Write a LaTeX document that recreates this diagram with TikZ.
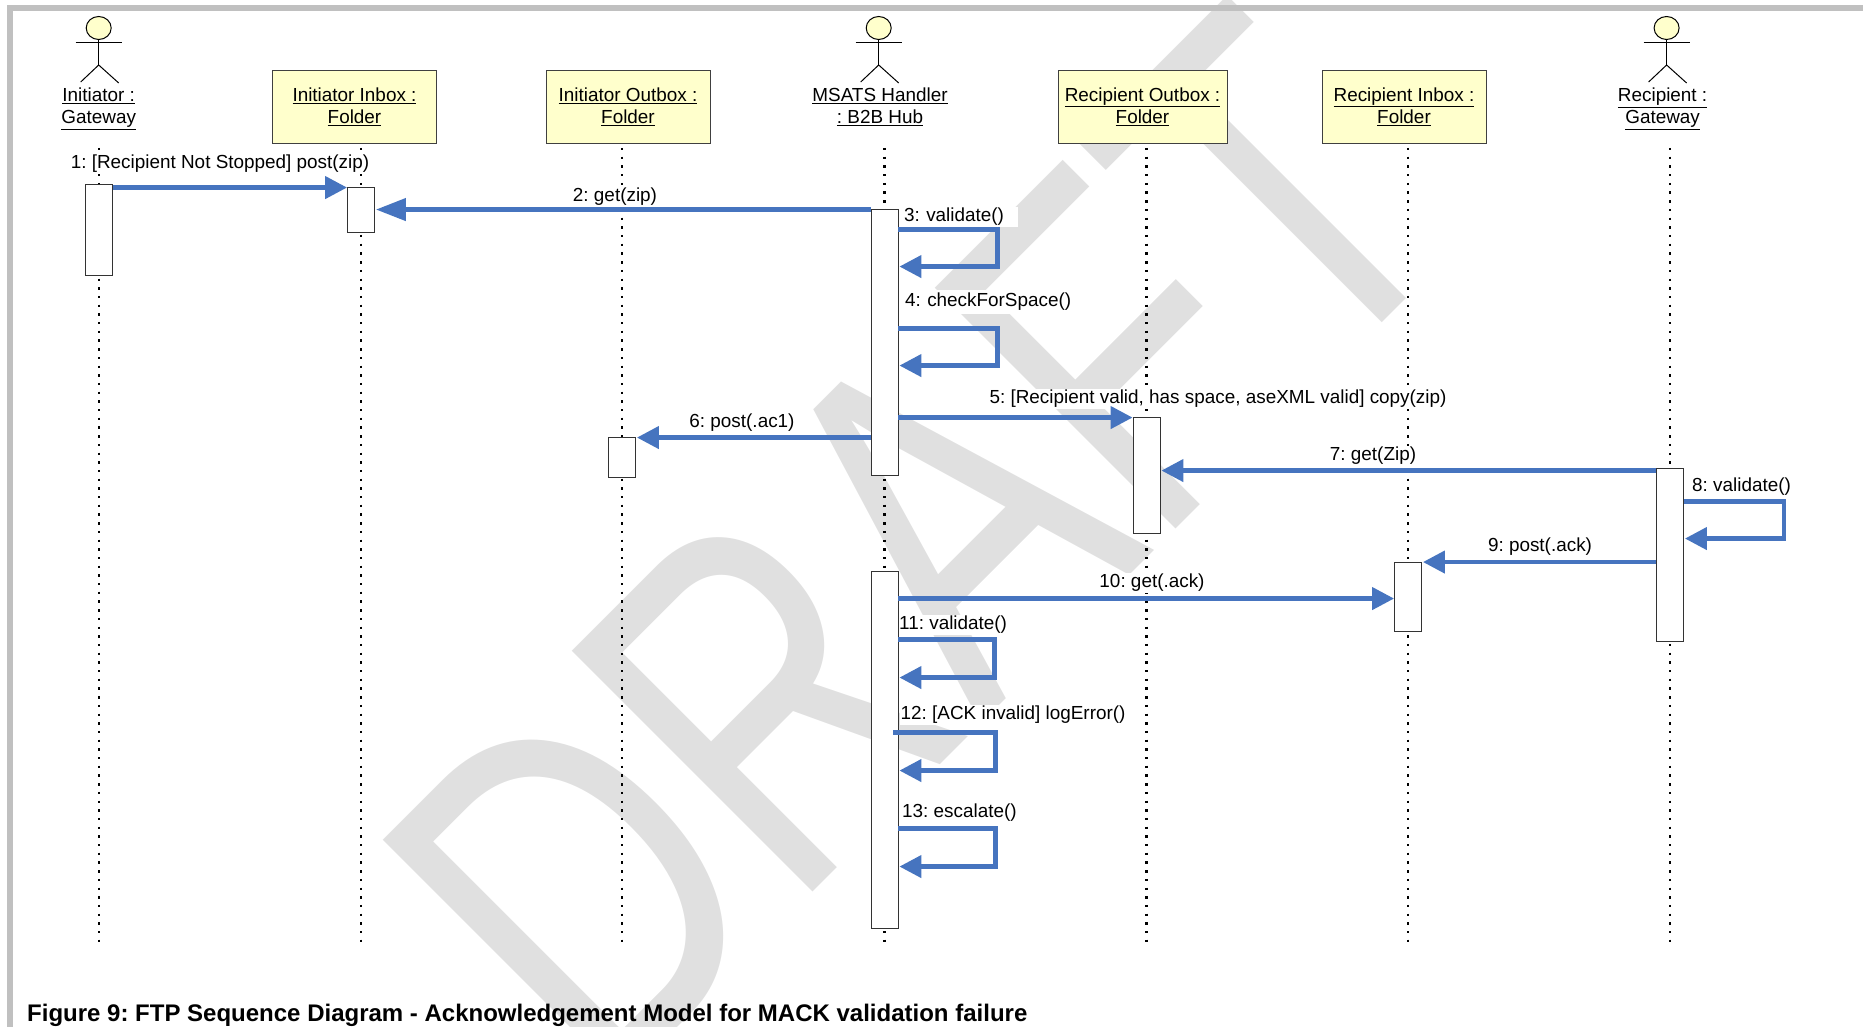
\documentclass[tikz,border=0pt]{standalone}
\usepackage{fontspec}
\setmainfont{Liberation Sans}
\usetikzlibrary{arrows.meta}
\usetikzlibrary{shapes.geometric}
\definecolor{msgblue}{HTML}{4674BF}
\definecolor{noteyellow}{HTML}{FFFFCC}
\definecolor{framegray}{HTML}{C0C0C0}
\definecolor{draftgray}{HTML}{E0E0E0}
\frenchspacing
\tikzset{
	every node/.style={font=\fontsize{18.9}{22}\selectfont, text=black},
	folder/.style={draw=black!75, fill=noteyellow, line width=0.9pt, shape=rectangle, minimum height=73pt, align=center, inner sep=0pt},
	actor_text/.style={align=center, inner sep=0pt},
	head/.style={draw=black, fill=noteyellow, shape=ellipse, line width=1pt, minimum width=25pt, minimum height=23pt, inner sep=0pt},
	lifeline/.style={draw=black, line width=2.4pt, dash pattern=on 2.4pt off 6.3pt},
	activation/.style={draw=black!80, fill=white, line width=0.9pt, shape=rectangle, minimum width=27pt, inner sep=0pt},
	msg/.style={draw=msgblue, line width=4.4pt, -{Triangle[length=22pt,width=22pt]}},
	label/.style={fill=white, inner sep=1pt},
}
\begin{document}
\begin{tikzpicture}[x=1pt, y=-1pt]
	\useasboundingbox (0,0) rectangle (1863,1027);
	\clip (0,0) rectangle (1863,1027);

	\node[text=draftgray, font=\fontsize{495}{495}\selectfont, rotate=45, xscale=0.748, anchor=base west, inner sep=0pt] (draft) at (602,1103) {DRAFT};

	\draw[framegray, line width=6pt] (10,1030) -- (10,8) -- (1866,8);

	\coordinate (top_a) at (98.7,148);
	\coordinate (end_a) at (98.7,947);
	\coordinate (top_b) at (361,148);
	\coordinate (end_b) at (361,947);
	\coordinate (top_c) at (622,148);
	\coordinate (end_c) at (622,947);
	\coordinate (top_d) at (884.5,148);
	\coordinate (end_d) at (884.5,947);
	\coordinate (top_e) at (1146.5,148);
	\coordinate (end_e) at (1146.5,947);
	\coordinate (top_f) at (1408,148);
	\coordinate (end_f) at (1408,947);
	\coordinate (top_g) at (1670,148);
	\coordinate (end_g) at (1670,947);
	\foreach \line in {a,b,c,d,e,f,g} {
		\draw[lifeline] (top_\line) -- (end_\line);
	}

	\foreach \who/\xpos in {a/98.7, d/878.7, g/1666.6} {
		\node[head] (head_\who) at (\xpos,28) {};
		\coordinate (hip_\who) at (\xpos,65);
		\coordinate (arm_l_\who) at (\xpos-23,43);
		\coordinate (arm_r_\who) at (\xpos+23,43);
		\coordinate (leg_l_\who) at (\xpos-18,82);
		\coordinate (leg_r_\who) at (\xpos+20,83);
		\draw[line width=1pt] (head_\who.south) -- (hip_\who);
		\draw[line width=1pt] (arm_l_\who) -- (arm_r_\who);
		\draw[line width=1pt] (leg_l_\who) -- (hip_\who) -- (leg_r_\who);
	}

	\node[actor_text] (name_a) at (98.7,109) {\underline{Initiator :}\\\underline{Gateway}};
	\node[actor_text] (name_d) at (880,107) {\underline{MSATS Handler}\\\underline{: B2B Hub}};
	\node[actor_text] (name_g) at (1662.6,109) {\underline{Recipient :}\\\underline{Gateway}};
	\node[folder, minimum width=164pt] (box_b) at (354.5,106.5) {\underline{Initiator Inbox :}\\\underline{Folder}};
	\node[folder, minimum width=164pt] (box_c) at (628,106.5) {\underline{Initiator Outbox :}\\\underline{Folder}};
	\node[folder, minimum width=169pt] (box_e) at (1142.5,106.5) {\underline{Recipient Outbox :}\\\underline{Folder}};
	\node[folder, minimum width=164pt] (box_f) at (1404,106.5) {\underline{Recipient Inbox :}\\\underline{Folder}};

	\node[label] (lab_1) at (220,164) {1: [Recipient Not Stopped] post(zip)};
	\node[label] (lab_2) at (615,197) {2: get(zip)};
	\node[label, anchor=west, minimum height=18pt, text width=113pt] (lab_3) at (903,217) {3: validate()};
	\node[label, anchor=west, minimum height=24pt, text width=213pt] (lab_4) at (904,302) {4: checkForSpace()};
	\node[label] (lab_5) at (1218,399) {5: [Recipient valid, has space, aseXML valid] copy(zip)};
	\node[label] (lab_6) at (742,422.5) {6: post(.ac1)};
	\node[label] (lab_7) at (1373,456) {7: get(Zip)};
	\node[label, anchor=west] (lab_8) at (1691,487) {8: validate()};
	\node[label] (lab_9) at (1540,547) {9: post(.ack)};
	\node[label] (lab_10) at (1152,583) {10: get(.ack)};
	\node[label, anchor=west] (lab_11) at (898,625) {11: validate()};
	\node[label, anchor=west] (lab_12) at (899.5,715) {12: [ACK invalid] logError()};
	\node[label, anchor=west] (lab_13) at (901,813) {13: escalate()};

	\node[activation, minimum height=91pt] (act_a) at (98.7,229.5) {};
	\node[activation, minimum height=45pt] (act_b) at (361,209.5) {};
	\node[activation, minimum height=40pt] (act_c) at (622,457) {};
	\node[activation, minimum height=266pt] (act_d1) at (884.5,342) {};
	\node[activation, minimum height=357pt] (act_d2) at (884.5,749.5) {};
	\node[activation, minimum height=116pt] (act_e) at (1146.5,475) {};
	\node[activation, minimum height=69pt] (act_f) at (1408,597) {};
	\node[activation, minimum height=173pt] (act_g) at (1670,554.5) {};

	\draw[msg] ([yshift=-4pt]act_a.north east) -- ([yshift=-1pt]act_b.north west);
	\draw[msg, -{Triangle[length=30pt,width=22pt]}] ([yshift=-1pt]act_d1.north west) -- ([yshift=-23pt,xshift=1pt]act_b.north east);
	\draw[msg] ([yshift=-21pt]act_d1.north east) -- ++(99,0) -- ++(0,37) -- ([yshift=-58pt,xshift=1pt]act_d1.north east);
	\draw[msg] ([yshift=-120pt]act_d1.north east) -- ++(99,0) -- ++(0,37) -- ([yshift=-157pt,xshift=1pt]act_d1.north east);
	\draw[msg] ([yshift=-209pt]act_d1.north east) -- ([yshift=-1pt]act_e.north west);
	\draw[msg] ([yshift=-229pt]act_d1.north west) -- ([yshift=-1pt,xshift=1pt]act_c.north east);
	\draw[msg] ([yshift=-3pt]act_g.north west) -- ([yshift=-54pt,xshift=1pt]act_e.north east);
	\draw[msg] ([yshift=-34pt]act_g.north east) -- ++(100,0) -- ++(0,37) -- ([yshift=-71pt,xshift=1pt]act_g.north east);
	\draw[msg] ([yshift=-94.5pt]act_g.north west) -- ([xshift=1pt]act_f.north east);
	\draw[msg] ([yshift=-28pt]act_d2.north east) -- ([yshift=-36.5pt]act_f.north west);
	\draw[msg] ([yshift=-69pt]act_d2.north east) -- ++(96,0) -- ++(0,38) -- ([yshift=-107pt,xshift=1pt]act_d2.north east);
	\draw[msg] ([yshift=-162pt,xshift=-5pt]act_d2.north east) -- ++(102,0) -- ++(0,38) -- ([yshift=-200pt,xshift=1pt]act_d2.north east);
	\draw[msg] ([yshift=-258pt]act_d2.north east) -- ++(97,0) -- ++(0,38) -- ([yshift=-296pt,xshift=1pt]act_d2.north east);

	\node[anchor=west, inner sep=0pt, font=\bfseries\fontsize{24}{28}\selectfont] (caption) at (27,1015) {Figure 9: FTP Sequence Diagram - Acknowledgement Model for MACK validation failure};
\end{tikzpicture}
\end{document}
